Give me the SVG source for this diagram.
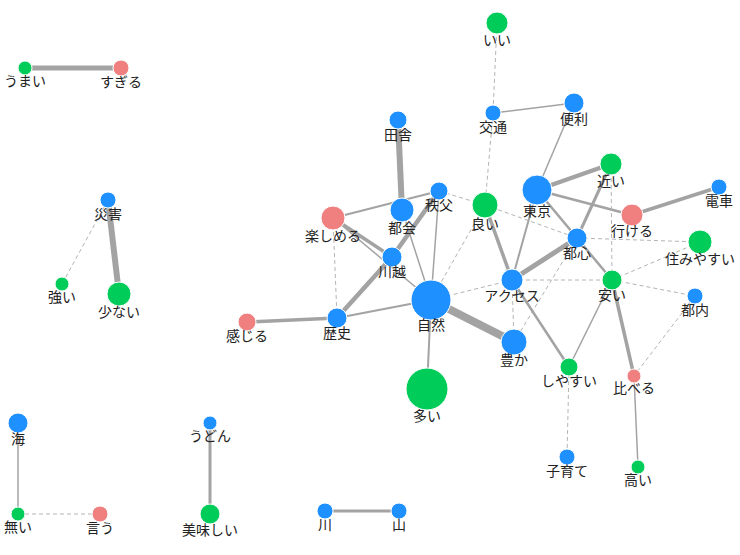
<svg xmlns="http://www.w3.org/2000/svg" width="740" height="555" viewBox="0 0 740 555">
<style>
.e{stroke:#a3a3a3;fill:none;stroke-linecap:butt}
.d{stroke:#b4b4b4;stroke-width:1;stroke-dasharray:4,3;fill:none}
.b{fill:#1e90ff;stroke:#fff;stroke-width:1}
.g{fill:#00cc5a;stroke:#fff;stroke-width:1}
.p{fill:#f08080;stroke:#fff;stroke-width:1}
text{font-family:"Noto Sans CJK JP","Noto Sans",sans-serif;font-size:14px;fill:#222;text-anchor:middle}
</style>
<rect width="740" height="555" fill="#fff"/>
<g id="edges">
<line class="e" x1="25" y1="68" x2="121" y2="68" stroke-width="5"/>
<line class="e" x1="108" y1="200" x2="119" y2="294" stroke-width="6"/>
<line class="d" x1="108" y1="200" x2="62" y2="284"/>
<line class="e" x1="18" y1="423" x2="18" y2="514" stroke-width="1.5"/>
<line class="d" x1="18" y1="514" x2="100" y2="514"/>
<line class="e" x1="210" y1="423" x2="210" y2="514" stroke-width="3"/>
<line class="e" x1="325" y1="511" x2="399" y2="511" stroke-width="3"/>
<line class="d" x1="497" y1="23" x2="493" y2="113"/>
<line class="e" x1="493" y1="113" x2="574" y2="103" stroke-width="1.5"/>
<line class="d" x1="493" y1="113" x2="485" y2="205"/>
<line class="e" x1="574" y1="103" x2="537" y2="190" stroke-width="1.5"/>
<line class="e" x1="398" y1="120" x2="402" y2="210" stroke-width="6"/>
<line class="e" x1="333" y1="218" x2="439" y2="191" stroke-width="2"/>
<line class="e" x1="392" y1="257" x2="439" y2="191" stroke-width="4.5"/>
<line class="e" x1="337" y1="318" x2="392" y2="257" stroke-width="4.5"/>
<line class="e" x1="333" y1="218" x2="392" y2="257" stroke-width="3.5"/>
<line class="e" x1="333" y1="218" x2="431" y2="300" stroke-width="1.5"/>
<line class="e" x1="402" y1="210" x2="431" y2="300" stroke-width="1.5"/>
<line class="e" x1="439" y1="191" x2="431" y2="300" stroke-width="1.5"/>
<line class="d" x1="333" y1="218" x2="337" y2="318"/>
<line class="d" x1="439" y1="191" x2="485" y2="205"/>
<line class="d" x1="485" y1="205" x2="431" y2="300"/>
<line class="d" x1="485" y1="205" x2="577" y2="238"/>
<line class="e" x1="485" y1="205" x2="512" y2="280" stroke-width="3.5"/>
<line class="e" x1="537" y1="190" x2="512" y2="280" stroke-width="2"/>
<line class="e" x1="537" y1="190" x2="611" y2="164" stroke-width="4.5"/>
<line class="e" x1="537" y1="190" x2="632" y2="215" stroke-width="2.5"/>
<line class="e" x1="537" y1="190" x2="577" y2="238" stroke-width="2.5"/>
<line class="e" x1="632" y1="215" x2="719" y2="187" stroke-width="3.5"/>
<line class="e" x1="611" y1="164" x2="577" y2="238" stroke-width="3"/>
<line class="d" x1="611" y1="164" x2="612" y2="280"/>
<line class="e" x1="577" y1="238" x2="512" y2="280" stroke-width="5"/>
<line class="e" x1="577" y1="238" x2="612" y2="280" stroke-width="2.5"/>
<line class="d" x1="577" y1="238" x2="700" y2="242"/>
<line class="d" x1="577" y1="238" x2="514" y2="342"/>
<line class="d" x1="512" y1="280" x2="612" y2="280"/>
<line class="d" x1="512" y1="280" x2="431" y2="300"/>
<line class="d" x1="512" y1="280" x2="514" y2="342"/>
<line class="e" x1="512" y1="280" x2="569" y2="367" stroke-width="2.5"/>
<line class="d" x1="612" y1="280" x2="700" y2="242"/>
<line class="d" x1="612" y1="280" x2="695" y2="296"/>
<line class="e" x1="612" y1="280" x2="569" y2="367" stroke-width="1.5"/>
<line class="e" x1="612" y1="280" x2="634" y2="376" stroke-width="3.5"/>
<line class="d" x1="695" y1="296" x2="634" y2="376"/>
<line class="e" x1="634" y1="376" x2="638" y2="467" stroke-width="1.5"/>
<line class="d" x1="569" y1="367" x2="567" y2="457"/>
<line class="e" x1="431" y1="300" x2="514" y2="342" stroke-width="8"/>
<line class="e" x1="431" y1="300" x2="427" y2="389" stroke-width="2"/>
<line class="e" x1="431" y1="300" x2="337" y2="318" stroke-width="2"/>
<line class="e" x1="337" y1="318" x2="247" y2="322" stroke-width="3.5"/>
</g>
<g id="n-umai"><circle class="g" cx="25" cy="68" r="7"/><text x="25" y="86">うまい</text></g>
<g id="n-sugiru"><circle class="p" cx="121" cy="68" r="8"/><text x="121" y="87">すぎる</text></g>
<g id="n-saigai"><circle class="b" cx="108" cy="200" r="8"/><text x="108" y="219">災害</text></g>
<g id="n-tsuyoi"><circle class="g" cx="62" cy="284" r="7"/><text x="62" y="302">強い</text></g>
<g id="n-sukunai"><circle class="g" cx="119" cy="294" r="12"/><text x="119" y="317">少ない</text></g>
<g id="n-umi"><circle class="b" cx="18" cy="423" r="10"/><text x="18" y="444">海</text></g>
<g id="n-nai"><circle class="g" cx="18" cy="514" r="7"/><text x="18" y="532">無い</text></g>
<g id="n-iu"><circle class="p" cx="100" cy="514" r="8"/><text x="100" y="533">言う</text></g>
<g id="n-udon"><circle class="b" cx="210" cy="423" r="7"/><text x="210" y="441">うどん</text></g>
<g id="n-oishii"><circle class="g" cx="210" cy="514" r="10"/><text x="210" y="535">美味しい</text></g>
<g id="n-kawa"><circle class="b" cx="325" cy="511" r="8"/><text x="325" y="530">川</text></g>
<g id="n-yama"><circle class="b" cx="399" cy="511" r="8"/><text x="399" y="530">山</text></g>
<g id="n-ii"><circle class="g" cx="497" cy="23" r="11"/><text x="497" y="45">いい</text></g>
<g id="n-koutsu"><circle class="b" cx="493" cy="113" r="8"/><text x="493" y="132">交通</text></g>
<g id="n-benri"><circle class="b" cx="574" cy="103" r="10"/><text x="574" y="124">便利</text></g>
<g id="n-inaka"><circle class="b" cx="398" cy="120" r="9"/><text x="398" y="140">田舎</text></g>
<g id="n-chichibu"><circle class="b" cx="439" cy="191" r="9"/><text x="439" y="210">秩父</text></g>
<g id="n-tokai"><circle class="b" cx="402" cy="210" r="12"/><text x="402" y="233">都会</text></g>
<g id="n-tanoshimeru"><circle class="p" cx="333" cy="218" r="12"/><text x="333" y="241">楽しめる</text></g>
<g id="n-yoi"><circle class="g" cx="485" cy="205" r="13"/><text x="485" y="229">良い</text></g>
<g id="n-tokyo"><circle class="b" cx="537" cy="190" r="15"/><text x="537" y="216">東京</text></g>
<g id="n-chikai"><circle class="g" cx="611" cy="164" r="11"/><text x="611" y="186">近い</text></g>
<g id="n-ikeru"><circle class="p" cx="632" cy="215" r="11"/><text x="632" y="236">行ける</text></g>
<g id="n-densha"><circle class="b" cx="719" cy="187" r="8"/><text x="719" y="206">電車</text></g>
<g id="n-toshin"><circle class="b" cx="577" cy="238" r="10"/><text x="577" y="258">都心</text></g>
<g id="n-sumiyasui"><circle class="g" cx="700" cy="242" r="12"/><text x="700" y="264">住みやすい</text></g>
<g id="n-kawagoe"><circle class="b" cx="392" cy="257" r="10"/><text x="392" y="277">川越</text></g>
<g id="n-access"><circle class="b" cx="512" cy="280" r="11"/><text x="512" y="301">アクセス</text></g>
<g id="n-yasui"><circle class="g" cx="612" cy="280" r="10"/><text x="612" y="300">安い</text></g>
<g id="n-tonai"><circle class="b" cx="695" cy="296" r="8"/><text x="695" y="315">都内</text></g>
<g id="n-shizen"><circle class="b" cx="431" cy="300" r="20"/><text x="431" y="330">自然</text></g>
<g id="n-rekishi"><circle class="b" cx="337" cy="318" r="10"/><text x="337" y="338">歴史</text></g>
<g id="n-kanjiru"><circle class="p" cx="247" cy="322" r="9"/><text x="247" y="341">感じる</text></g>
<g id="n-yutaka"><circle class="b" cx="514" cy="342" r="13"/><text x="514" y="365">豊か</text></g>
<g id="n-shiyasui"><circle class="g" cx="569" cy="367" r="9"/><text x="569" y="386">しやすい</text></g>
<g id="n-kuraberu"><circle class="p" cx="634" cy="376" r="7"/><text x="634" y="393">比べる</text></g>
<g id="n-ooi"><circle class="g" cx="427" cy="389" r="21"/><text x="427" y="421">多い</text></g>
<g id="n-kosodate"><circle class="b" cx="567" cy="457" r="8"/><text x="567" y="476">子育て</text></g>
<g id="n-takai"><circle class="g" cx="638" cy="467" r="7"/><text x="638" y="485">高い</text></g>
</svg>
